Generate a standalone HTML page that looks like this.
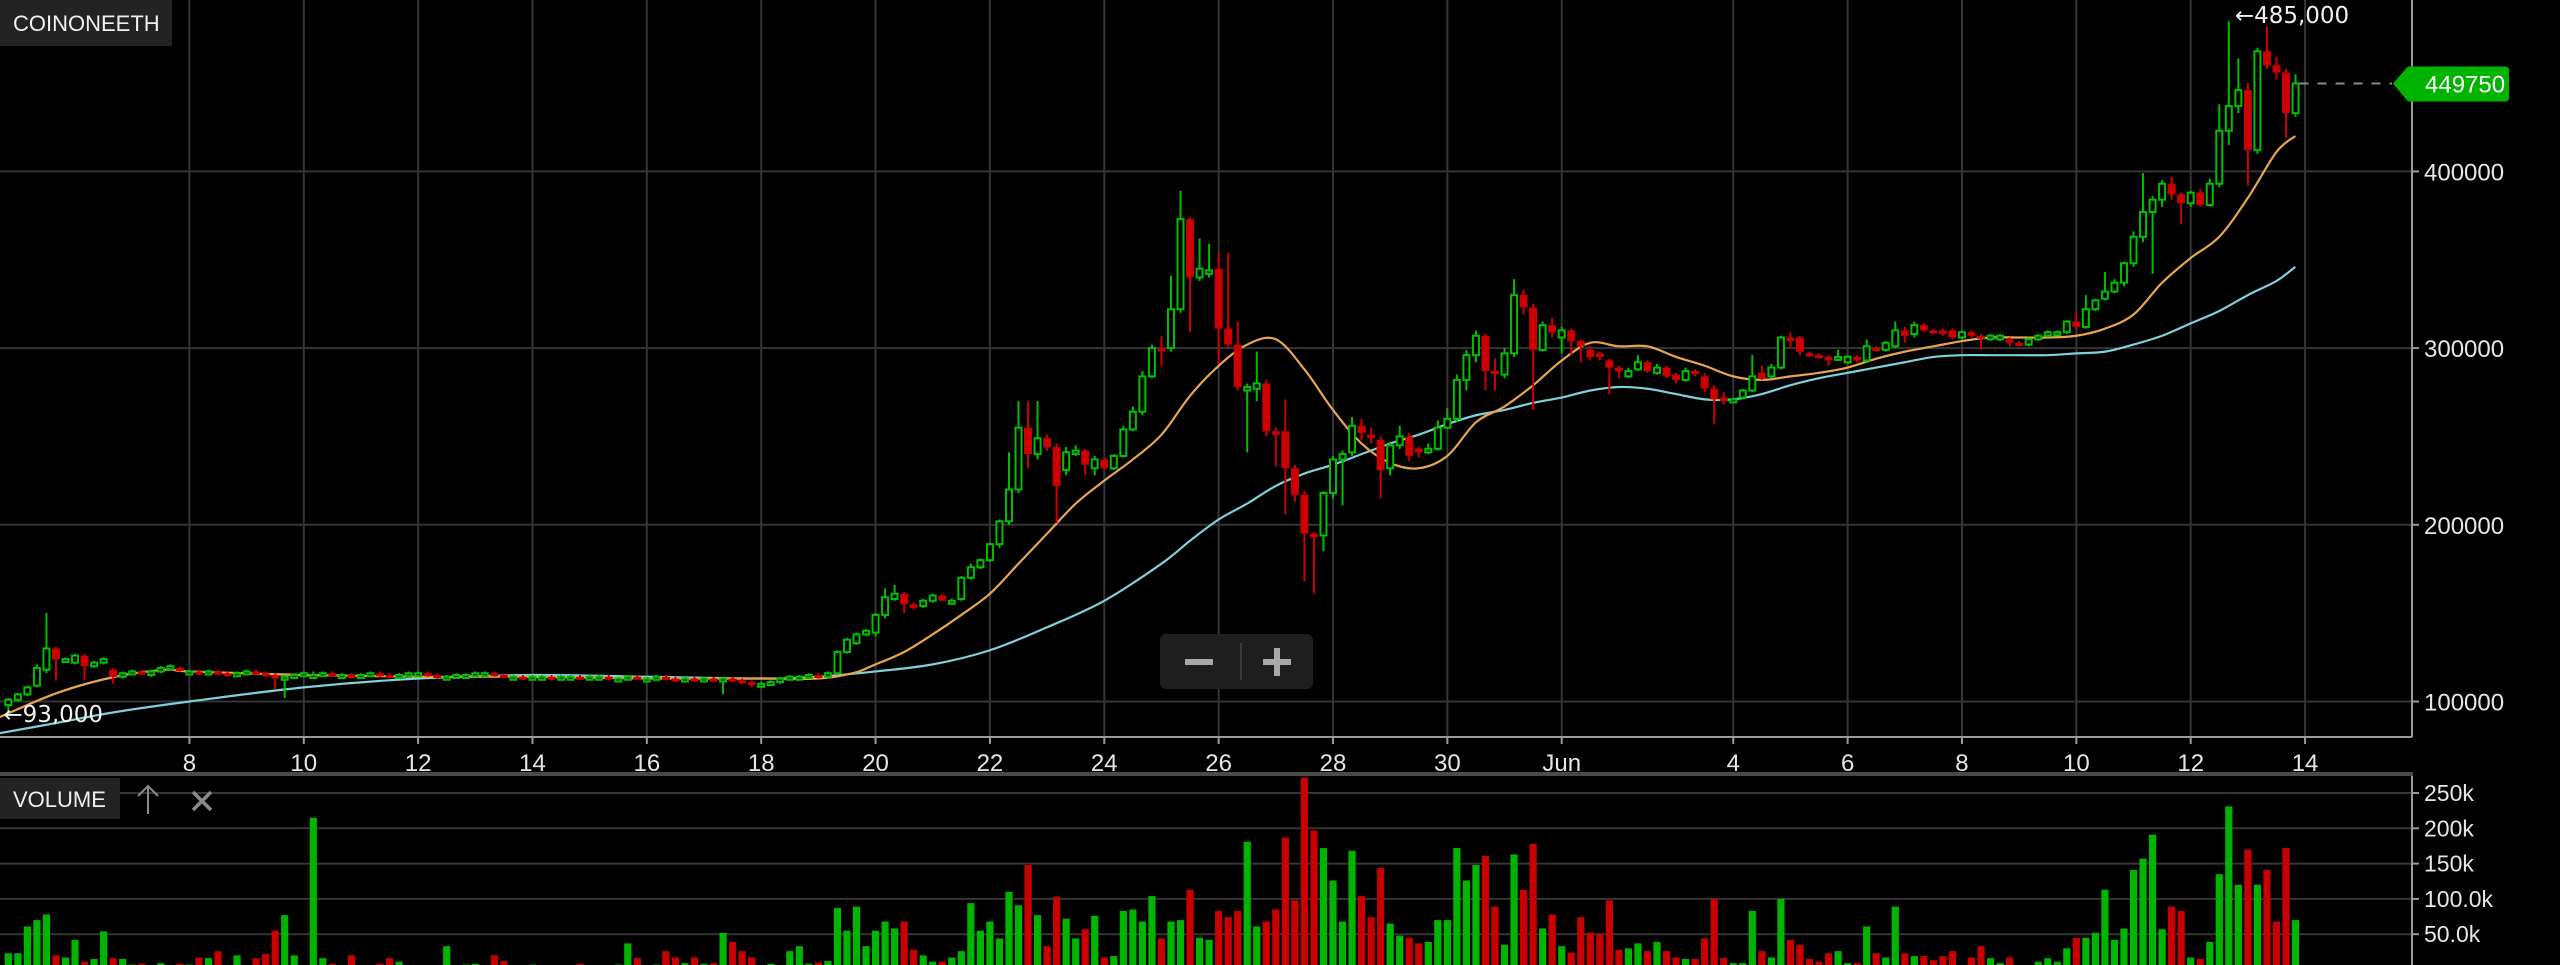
<!DOCTYPE html>
<html><head><meta charset="utf-8">
<style>
html,body{margin:0;padding:0;background:#000;}
svg{display:block;font-family:"Liberation Sans","DejaVu Sans",sans-serif;}
</style></head>
<body>
<svg id="chart" width="2560" height="965" viewBox="0 0 2560 965" xmlns="http://www.w3.org/2000/svg">
<rect x="0" y="0" width="2560" height="965" fill="#000"/>
<g id="grid"></g>
<g id="ma"></g>
<g id="candles"></g>
<g id="vol"></g>
<g id="axes"></g>
</svg>
<script>
// ---- data (prices in thousands KRW, volumes in thousands) ----
const startDay = -3.1667; // days relative to May 8, first candle (4h candles)
const opens = [98,101,104,109,118,130,124,122,126,120,122,118,114,116,117,115,117,119,119,117,
117,116,117,116,115,116,117,116,115,113,114,115,114.5,115,116,115,115,114,115,116,115,114,115,116,116,115,114,114,115,115,116,116,115,114,114,113,114,114,113,114,114,113,114,114,113,113,114,113,113,114,113,112,113,112,113,112,113,112,111,110,110,111,113,114,114,115,114,
116,128,
133,138,139,149,158,161,155,154,157,160,156,158,170,176,180,189,202,220,255,240,249,244,231,240,242,232,237,232,239,254,264,284,300,300,322,373,340,342,345,311,302,276,277,280,253,253,232,217,195,194,218,237,241,256,251,248,232,245,250,243,241,243,255,260,282,296,307,287,285,297,330,323,299,313,306,310,304,299,297,293,289,284,288,292,286,289,285,282,287,
284,277,272,271,272,276,286,284,289,306,306,297,296,295,295,292,295,293,300,299,301,310,308,313,310,310,310,306,309,307,305,305,305,303,302,305,307,308,309,315,312,322,328,332,337,348,363,377,384,393,387,382,388,381,393,423,437,446,412,468,460,456,433];
const highs = [102,105,109,121,150,131,125,127,127,123,125,119,117,118,118,118,120,121,120,118,
118,118,118,117,117,118,118,117,116,115,116,117,117,117,117,116,116,116,117,117,116,116,117,117,117,116,115,116,116,117,117,117,116,115,115,115,115,115,115,115,115,115,115,115,114,115,115,114,115,115,114,114,114,114,114,114,114,113,112,111,112,114,115,115,116,116,117,
129,136,
139,141,150,164,166,162,156,158,161,161,158,171,178,181,190,203,241,270,270,270,251,246,244,245,243,239,238,240,256,267,287,302,307,341,389,374,362,359,354,354,315,280,298,282,255,271,234,219,196,219,239,242,261,260,255,250,247,256,252,244,246,259,266,285,299,310,308,294,300,339,333,325,315,317,312,311,305,301,298,294,290,289,296,293,291,290,286,289,288,
286,279,275,272,277,296,290,291,307,309,307,298,297,296,299,296,296,305,301,304,315,312,315,314,311,311,311,310,310,308,308,308,306,304,306,308,310,310,316,320,330,328,343,339,349,366,399,386,395,397,388,389,390,396,438,485,464,450,470,482,465,458,455];
const lows = [93,100,103,108,116,112,123,121,112,119,121,110,113,115,115,114,116,118,117,116,
115,115,115,114,114,115,115,114,107,102,113,114,113,114,114,114,113,113,114,114,113,113,114,115,114,113,113,113,114,114,115,114,113,113,112,112,113,112,112,113,112,112,113,112,112,112,112,112,112,112,111,111,111,111,111,104,111,110,108,109,109,110,112,113,113,113,113,
115,127,
132,137,137,147,157,150,152,153,156,157,155,157,169,175,179,187,200,218,232,237,242,201,228,239,228,228,231,231,238,253,262,283,290,298,320,309,338,340,291,300,276,241,270,250,233,206,213,168,161,185,215,211,239,248,246,215,228,243,236,238,240,242,254,258,276,292,276,276,283,295,319,265,298,306,297,296,292,293,293,274,283,283,287,286,285,283,280,281,284,
275,257,268,270,271,275,282,283,288,300,296,295,294,290,293,291,292,292,298,298,300,303,306,309,308,307,305,305,306,299,304,304,301,301,301,304,306,307,308,311,311,321,327,331,335,346,360,342,380,384,370,380,380,380,391,415,433,392,410,458,452,419,431];
const closes = [101,104,108,119,130,124,124,126,120,122,124,114,116,117,116,117,119,120,118,117,
116,117,116,115,116,117,116,115,113,114,115,116,115,116,115,115,114,115,116,115,114,115,116,116,115,114,114,115,115,116,116,115,114,114,113,114,114,113,114,114,113,114,114,113,113,114,113,113,114,113,112,113,112,113,112,113,112,111,110,110,111,113,114,114,115,114,116,
128,135,
138,140,149,159,161,155,153,157,160,157,157,170,176,180,189,202,220,255,240,249,244,222,241,242,234,237,232,239,254,264,284,300,299,322,373,340,345,344,311,302,278,278,280,253,251,232,217,195,193,218,237,240,256,252,249,231,245,250,239,241,243,255,260,282,296,307,287,286,297,330,323,299,313,309,310,304,301,295,295,289,287,287,292,287,289,284,282,287,286,
277,271,270,271,276,284,283,289,306,304,298,296,295,293,295,295,293,301,299,303,310,307,313,310,309,308,306,309,307,306,307,307,303,302,305,307,309,309,315,312,322,327,332,337,348,363,377,384,393,387,382,388,381,393,423,437,446,412,468,460,456,433,449.75];
const volumes = [23,23,61,70,78,20,17,42,11,15,54,16,15,7,8,6,9,5,8,7,17,16,26,6,20,5,16,22,55,77,20,5,215,16,8,6,20,5,6,8,16,11,5,6,4,5,33,6,7,8,6,20,12,6,5,7,4,6,5,6,8,5,4,5,7,37,16,6,7,26,17,9,17,8,9,52,39,26,17,6,8,6,26,33,8,10,12,87,55,
89,33,55,68,58,68,28,20,11,11,17,26,94,55,68,44,110,91,148,77,33,103,72,44,57,76,17,19,83,85,68,104,44,68,70,113,45,42,83,74,83,181,61,68,85,187,98,272,197,172,126,68,168,104,74,144,65,48,45,37,39,70,70,172,126,148,161,89,35,163,113,178,58,78,33,24,74,52,50,98,28,30,37,26,39,26,17,15,15,
44,100,16,9,9,83,26,17,100,42,35,15,11,23,26,9,9,61,23,17,89,23,19,19,13,19,26,3,17,33,16,9,17,3,3,11,16,11,30,45,45,52,113,42,58,141,157,191,57,89,83,17,15,39,135,231,120,170,120,141,68,172,70];
const maFastDays = [-3.33,-2.3,-1.3,-0.4,0,2,4,6,8,10,11,11.6,12,12.5,13,13.5,14,14.5,15,15.5,16,16.5,17,17.5,18,18.5,19,19.5,20,20.5,21,21.5,22,22.5,23,23.5,24,24.5,25,25.5,26,26.5,27,27.5,28,28.5,29,29.5,30,30.5,31,31.5,32,32.5,33,33.5,34,34.5,35,35.5,36,36.5,36.83];
const maFast = [91,105,114,118,117,115,114,114,113,113,113,116,121,128,138,149,161,178,195,212,225,237,251,273,290,302,305,288,265,246,235,232,239,258,267,279,293,303,301,301,295,290,284,282,284,286,289,294,298,301,304,306,306,306,307,311,319,337,351,363,385,411,420];
const maSlowDays = [-3.33,-2.3,-1.3,0,2,4,6,8,10,11,12,13,14,15,16,17,17.5,18,18.5,19,19.5,20,20.5,21,21.5,22,22.5,23,23.5,24,24.5,25,25.5,26,26.5,27,27.5,28,28.5,29,29.5,30,30.5,31,31.5,32,32.5,33,33.5,34,34.5,35,35.5,36,36.5,36.83];
const maSlow = [82,88,94,100,108,113,115,114,113,114,117,121,129,142,157,178,191,203,212,222,229,234,240,246,251,257,262,265,269,272,276,278,277,274,271,271,274,279,283,286,289,292,295,296,296,296,296,297,298,302,307,314,321,330,338,346];
const dateTicks = ['8','10','12','14','16','18','20','22','24','26','28','30','Jun','4','6','8','10','12','14'];
const dateTickDays = [0,2,4,6,8,10,12,14,16,18,20,22,24,27,29,31,33,35,37];
const priceTicks = [100000,200000,300000,400000];
const volTicks = [50,100,150,200,250];
const volTickLabels = ['50.0k','100.0k','150k','200k','250k'];
const lastPrice = 449750;
const maxLabel = '485,000';
const minLabel = '93,000';

// ---- scales ----
const AX = 2412, XAXIS_Y = 737, VOL_TOP = 777, VOL_ZERO = 969.5;
const xDay = d => 189.4 + d * 57.18;
const xC = i => xDay(startDay + i / 6);
const yP = k => 701.5 - (k - 100) * 1.767;
const yV = k => VOL_ZERO - k * 0.706;
const NS = 'http://www.w3.org/2000/svg';
function mk(tag, attrs, parent) {
  const e = document.createElementNS(NS, tag);
  for (const k in attrs) e.setAttribute(k, attrs[k]);
  parent.appendChild(e);
  return e;
}
const grid = document.getElementById('grid');
const axes = document.getElementById('axes');
const cg = document.getElementById('candles');
const vg = document.getElementById('vol');
const mg = document.getElementById('ma');

// grid
dateTickDays.forEach((d, j) => {
  const x = xDay(d);
  const l = mk('line', {x1: x, x2: x, y1: 0, y2: XAXIS_Y, stroke: '#353535', 'stroke-width': 2}, grid);
  
  
  const t = mk('line', {x1: x, x2: x, y1: XAXIS_Y, y2: XAXIS_Y + 7, stroke: '#9a9a9a', 'stroke-width': 2}, axes);
  
  
  const tx = mk('text', {x: x, y: 771, fill: '#e6e6e6', 'font-size': 24, 'text-anchor': 'middle'}, axes);
  tx.textContent = dateTicks[j];
  
  
});
priceTicks.forEach(v => {
  const y = yP(v / 1000);
  const l = mk('line', {x1: 0, x2: AX, y1: y, y2: y, stroke: '#353535', 'stroke-width': 2}, grid);
  
  
  const t = mk('line', {x1: AX, x2: AX + 7, y1: y, y2: y, stroke: '#9a9a9a', 'stroke-width': 2}, axes);
  
  
  const tx = mk('text', {x: 2424, y: y + 9, fill: '#e6e6e6', 'font-size': 24}, axes);
  tx.textContent = String(v);
  
  
});
volTicks.forEach((v, j) => {
  const y = yV(v);
  const l = mk('line', {x1: 0, x2: AX, y1: y, y2: y, stroke: '#353535', 'stroke-width': 2}, grid);
  
  
  const t = mk('line', {x1: AX, x2: AX + 7, y1: y, y2: y, stroke: '#9a9a9a', 'stroke-width': 2}, axes);
  
  
  const tx = mk('text', {x: 2424, y: y + 8, fill: '#e6e6e6', 'font-size': 23}, axes);
  tx.textContent = volTickLabels[j];
  
  
});

// moving averages (smooth through points)
function smoothPath(days, vals) {
  const p = days.map((d, i) => [xDay(d), yP(vals[i])]);
  let s = 'M' + p[0][0] + ',' + p[0][1];
  for (let i = 0; i < p.length - 1; i++) {
    const p0 = p[i - 1] || p[i], p1 = p[i], p2 = p[i + 1], p3 = p[i + 2] || p2;
    const c1 = [p1[0] + (p2[0] - p0[0]) / 6, p1[1] + (p2[1] - p0[1]) / 6];
    const c2 = [p2[0] - (p3[0] - p1[0]) / 6, p2[1] - (p3[1] - p1[1]) / 6];
    s += ' C' + c1[0] + ',' + c1[1] + ' ' + c2[0] + ',' + c2[1] + ' ' + p2[0] + ',' + p2[1];
  }
  return s;
}
const slow = mk('path', {d: smoothPath(maSlowDays, maSlow), fill: 'none', stroke: '#7fd0da', 'stroke-width': 2.2}, mg);


const fast = mk('path', {d: smoothPath(maFastDays, maFast), fill: 'none', stroke: '#e9a451', 'stroke-width': 2.2}, mg);



// candles + volume
const GREEN = '#00bf00', RED = '#cc0000';
closes.forEach((c, i) => {
  const o = opens[i], up = c >= o, col = up ? GREEN : RED;
  const x = xC(i);
  const g = mk('g', {}, cg);
  
  
  mk('line', {x1: x, x2: x, y1: yP(highs[i]), y2: yP(lows[i]), stroke: col, 'stroke-width': 2}, g);
  const top = yP(Math.max(o, c)), bot = yP(Math.min(o, c));
  const h = Math.max(bot - top, 3);
  if (up) mk('rect', {x: x - 3, y: top, width: 6, height: h, fill: '#000', stroke: col, 'stroke-width': 2}, g);
  else mk('rect', {x: x - 4, y: top, width: 8, height: h, fill: col}, g);
  const vy = Math.max(yV(volumes[i]), VOL_TOP);
  const b = mk('rect', {x: x - 3.6, y: vy, width: 7.2, height: 965 - vy, fill: up ? '#00b400' : '#c80000'}, vg);
  
  
});

// axis lines and separators
mk('line', {x1: 0, x2: AX, y1: XAXIS_Y, y2: XAXIS_Y, stroke: '#9a9a9a', 'stroke-width': 2}, axes);
mk('line', {x1: AX, x2: AX, y1: 0, y2: XAXIS_Y, stroke: '#9a9a9a', 'stroke-width': 2}, axes);
mk('rect', {x: 0, y: 772, width: AX + 1, height: 4, fill: '#4a4a4a'}, axes);
mk('line', {x1: AX, x2: AX, y1: 776, y2: 965, stroke: '#9a9a9a', 'stroke-width': 2}, axes);

// last price marker
const lp = yP(lastPrice / 1000);
const dash = mk('line', {x1: xC(closes.length - 1) + 4, x2: 2392, y1: lp, y2: lp, stroke: '#8a8a8a', 'stroke-width': 2, 'stroke-dasharray': '9 9'}, axes);


const tag = mk('path', {d: 'M2393,' + lp + ' L2408,' + (lp - 17) + ' L2505,' + (lp - 17) + ' Q2509,' + (lp - 17) + ' 2509,' + (lp - 13) + ' L2509,' + (lp + 14) + ' Q2509,' + (lp + 18) + ' 2505,' + (lp + 18) + ' L2408,' + (lp + 18) + ' Z', fill: '#00b400'}, axes);


const tagT = mk('text', {x: 2425, y: lp + 9, fill: '#fff', 'font-size': 24}, axes);
tagT.textContent = String(lastPrice);



// max / min annotations
const maxI = highs.indexOf(Math.max(...highs));
const maxT = mk('text', {x: xC(maxI) + 6, y: yP(highs[maxI]) + 2, fill: '#f0f0f0', 'font-size': 23, 'font-family': 'DejaVu Sans, sans-serif'}, axes);
maxT.textContent = '\u2190' + maxLabel;


const minI = lows.indexOf(Math.min(...lows));
const minT = mk('text', {x: xC(minI) - 5, y: yP(lows[minI]) + 8, fill: '#f0f0f0', 'font-size': 23, 'font-family': 'DejaVu Sans, sans-serif'}, axes);
minT.textContent = '\u2190' + minLabel;


</script>
<svg style="position:absolute;left:0;top:0" width="2560" height="965" viewBox="0 0 2560 965" xmlns="http://www.w3.org/2000/svg" pointer-events="none">
<g>
<rect x="0" y="0" width="172" height="46" fill="#232323"/>
<text x="13" y="31" fill="#f0f0f0" font-size="22" font-family="Liberation Sans, sans-serif">COINONEETH</text>
</g>
<g>
<rect x="0" y="778" width="120" height="41" fill="#232323"/>
<text x="13" y="807" fill="#f0f0f0" font-size="22" font-family="Liberation Sans, sans-serif">VOLUME</text>
</g>
<g stroke="#8a8a8a" stroke-width="2" fill="none">
<line x1="148" y1="786" x2="148" y2="814"/><polyline points="138,796 148,786 158,796"/>
</g>
<g stroke="#8a8a8a" stroke-width="3.5">
<line x1="193" y1="792" x2="211" y2="810"/><line x1="211" y1="792" x2="193" y2="810"/>
</g>
<g>
<rect x="1160" y="634" width="153" height="55" rx="6" fill="#1e1e1e"/>
<line x1="1241" y1="643" x2="1241" y2="680" stroke="#444" stroke-width="1.5"/>
</g>
<g><rect x="1185" y="659" width="28" height="6" fill="#a8a8a8"/></g>
<g><rect x="1263" y="659" width="28" height="6" fill="#a8a8a8"/><rect x="1274" y="648" width="6" height="28" fill="#a8a8a8"/></g>
</svg>
</body></html>
